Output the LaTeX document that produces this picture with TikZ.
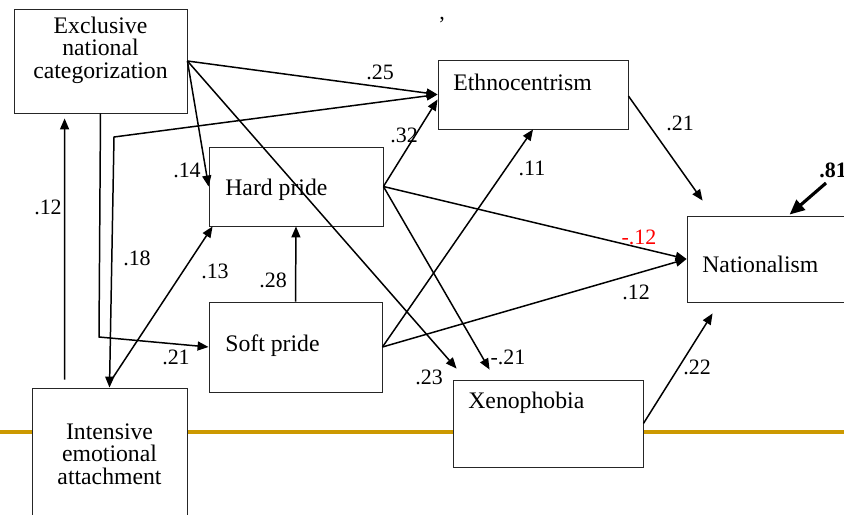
\documentclass[tikz,border=0pt]{standalone}
\usepackage{fontspec}
\setmainfont{Liberation Serif}
\usetikzlibrary{arrows.meta, positioning, calc}

\definecolor{rulegold}{RGB}{204,153,0}

\tikzset{
    box/.style={rectangle, draw=black!85, fill=white, line width=0.5pt, inner sep=0pt},
    boxtext/.style={font=\fontsize{13.5}{12.8}\selectfont, inner sep=0pt},
    coef/.style={font=\fontsize{12.5}{14}\selectfont, inner sep=0pt},
    link/.style={draw, line width=0.85pt, -{Triangle[length=2.2mm, width=1.8mm]}},
}

\begin{document}
\begin{tikzpicture}[x=0.02cm, y=-0.02cm]
    \useasboundingbox (0,0) rectangle (844,514);
    \clip (0,0) rectangle (844,514);

    % Slide rule behind the boxes
    \draw[rulegold, line width=2.8pt] (0,432) -- (844,432);

    % Boxes for the constructs
    \node (excl) [box, minimum width=3.46cm, minimum height=2.08cm] at (100.5,61) {};
    \node (ethno) [box, minimum width=3.8cm, minimum height=1.38cm] at (533,94.5) {};
    \node (hard) [box, minimum width=3.48cm, minimum height=1.58cm] at (296,186.5) {};
    \node (soft) [box, minimum width=3.46cm, minimum height=1.8cm] at (295.5,347) {};
    \node (nat) [box, minimum width=3.46cm, minimum height=1.72cm] at (773.5,259) {};
    \node (xeno) [box, minimum width=3.8cm, minimum height=1.74cm] at (548,423.5) {};
    \node (inten) [box, minimum width=3.1cm, minimum height=3.04cm] at (109.5,464) {};

    % Box texts
    \node (exclT) [boxtext, align=center] at (100.5,50) {Exclusive\\national\\categorization};
    \node (ethnoT) [boxtext, anchor=west] at (453,82) {Ethnocentrism};
    \node (hardT) [boxtext, anchor=west] at (225,190) {Hard pride};
    \node (softT) [boxtext, anchor=west] at (225,346) {Soft pride};
    \node (natT) [boxtext, anchor=west] at (702,264) {Nationalism};
    \node (xenoT) [boxtext, anchor=west] at (468,403) {Xenophobia};
    \node (intenT) [boxtext, align=center] at (109.5,454) {Intensive\\emotional\\attachment};

    % Bend points and free ends
    \coordinate (bendSoft) at (99,337);
    \coordinate (bendEthno) at (114,137);
    \coordinate (res) at (826,183);

    % Paths from the exclusive categorization
    \draw[link] (excl.east) -- (ethno.west);
    \draw[link] (excl.east) -- (hard.west);
    \draw[link] (excl.east) -- ([shift={(4,-11)}]xeno.north west);
    \draw[link] (excl.south) -- (bendSoft) -- (soft.west);

    % Paths from the emotional attachment
    \draw[link] ([shift={(33,-8)}]inten.north west) -- ([shift={(51,5)}]excl.south west);
    \draw[link, {Triangle[length=2.2mm, width=1.8mm]}-{Triangle[length=2.2mm, width=1.8mm]}] (inten.north) -- (bendEthno) -- (ethno.west);
    \draw[link] ([shift={(3.5,-10)}]inten.north) -- ([shift={(4,0)}]hard.south west);

    % Paths from pride
    \draw[link] (soft.north) -- (hard.south);
    \draw[link] (hard.east) -- ([shift={(0,5)}]ethno.west);
    \draw[link] (hard.east) -- ([shift={(37,-10)}]xeno.north west);
    \draw[link] (hard.east) -- (nat.west);
    \draw[link] (soft.east) -- (ethno.south);
    \draw[link] (soft.east) -- (nat.west);

    % Paths into nationalism
    \draw[link] ([shift={(0,1.5)}]ethno.east) -- ([shift={(16,-15)}]nat.north west);
    \draw[link] (xeno.east) -- ([shift={(26,11)}]nat.south west);
    \draw[draw, line width=1.8pt, -{Triangle[length=3mm, width=2.6mm]}] (res) -- ([shift={(103,-1)}]nat.north west);

    % Coefficients
    \node (c25) [coef] at (380,72) {.25};
    \node (c14) [coef] at (187,170) {.14};
    \node (c12a) [coef] at (48,207) {.12};
    \node (c18) [coef] at (137,258) {.18};
    \node (c13) [coef] at (215,271) {.13};
    \node (c28) [coef] at (273,280) {.28};
    \node (c21a) [coef] at (176,357) {.21};
    \node (c32) [coef] at (404,135) {.32};
    \node (c11) [coef] at (532,168) {.11};
    \node (c23) [coef] at (429,377) {.23};
    \node (c21b) [coef] at (508,357) {-.21};
    \node (c12b) [coef, red] at (639,237) {-.12};
    \node (c12c) [coef] at (636,292) {.12};
    \node (c21c) [coef] at (680,123) {.21};
    \node (c22) [coef] at (697,367) {.22};
    \node (c81) [coef, font=\fontsize{12.5}{14}\selectfont\bfseries] at (833,170) {.81};
    \node (comma) [coef] at (442,20) {,};
\end{tikzpicture}
\end{document}
